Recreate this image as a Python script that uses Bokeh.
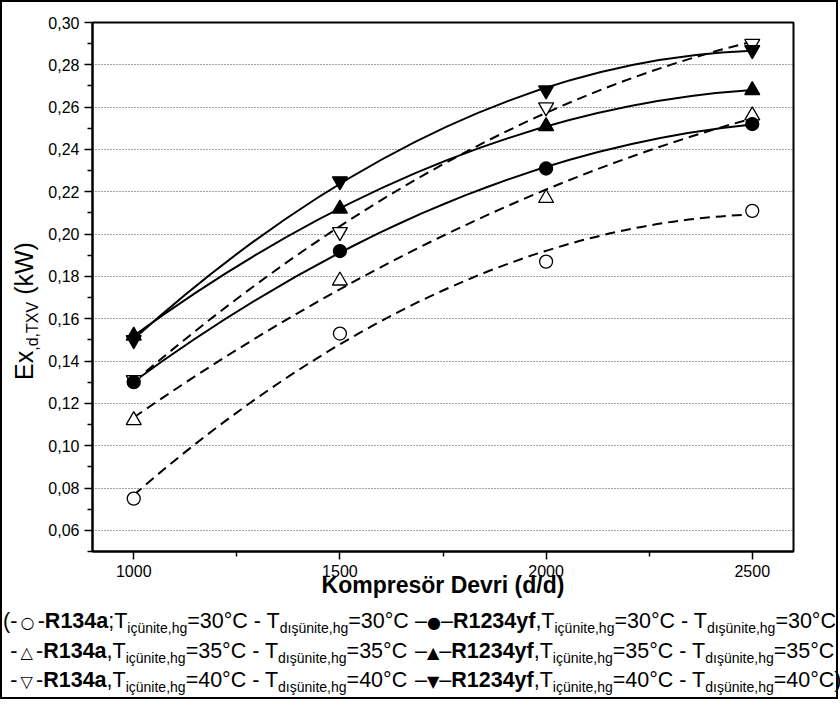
import numpy as np
from bokeh.plotting import figure
from bokeh.models import FixedTicker, Range1d, Div, CustomJSTickFormatter
from bokeh.layouts import column, row
from bokeh.embed import file_html
from bokeh.resources import INLINE

# ---------------- data ----------------
speeds = [1000, 1500, 2000, 2500]
r134a_30 = [0.075, 0.153, 0.187, 0.211]
r134a_35 = [0.112, 0.178, 0.217, 0.256]
r134a_40 = [0.131, 0.201, 0.260, 0.290]
r1234yf_30 = [0.130, 0.192, 0.231, 0.252]
r1234yf_35 = [0.152, 0.212, 0.251, 0.268]
r1234yf_40 = [0.150, 0.225, 0.268, 0.287]

x_ticks = [1000, 1500, 2000, 2500]
x_minor = [1250, 1750, 2250]
y_ticks = [0.06, 0.08, 0.10, 0.12, 0.14, 0.16, 0.18, 0.20, 0.22, 0.24, 0.26, 0.28, 0.30]
y_minor = [0.05, 0.07, 0.09, 0.11, 0.13, 0.15, 0.17, 0.19, 0.21, 0.23, 0.25, 0.27, 0.29]

refrigerants = ["R134a", "R1234yf"]
temps = [30, 35, 40]
open_markers = ["circle", "triangle", "inverted_triangle"]
open_symbols = ["\u25CB", "\u25B3", "\u25BD"]
filled_symbols = ["\u25CF", "\u25B2", "\u25BC"]

FONT = "Liberation Sans"
YDIV_W = 40

p = figure(width=834 - YDIV_W, height=600,
           x_range=Range1d(900, 2600), y_range=Range1d(0.05, 0.30),
           output_backend="svg", toolbar_location=None,
           min_border_left=90 - YDIV_W, min_border_right=43,
           min_border_top=20, min_border_bottom=51)

p.outline_line_color = "black"
p.outline_line_width = 2
p.background_fill_color = "white"
p.border_fill_color = "white"

for ax in (p.xaxis[0], p.yaxis[0]):
    ax.axis_line_width = 2
    ax.axis_line_color = "black"
    ax.major_tick_line_color = "black"
    ax.minor_tick_line_color = "black"
    ax.major_tick_line_width = 1.5
    ax.minor_tick_line_width = 1.5
    ax.major_tick_in = 0
    ax.minor_tick_in = 0
    ax.major_tick_out = 8
    ax.minor_tick_out = 5
    ax.major_label_text_font = FONT
    ax.major_label_text_font_size = "16px"
    ax.major_label_text_color = "black"
    ax.major_label_standoff = 5

p.xaxis.ticker = FixedTicker(ticks=x_ticks, minor_ticks=x_minor)
p.yaxis.ticker = FixedTicker(ticks=y_ticks, minor_ticks=y_minor)
p.yaxis.formatter = CustomJSTickFormatter(code="return tick.toFixed(2).replace('.', ',');")

p.xaxis.axis_label = "Kompresör Devri (d/d)"
p.xaxis.axis_label_text_font = FONT
p.xaxis.axis_label_text_font_size = "23px"
p.xaxis.axis_label_text_font_style = "bold"
p.xaxis.axis_label_text_color = "black"
p.xaxis.axis_label_standoff = -8

p.xgrid.visible = False
p.ygrid.ticker = FixedTicker(ticks=y_ticks)
p.ygrid.grid_line_color = "#444444"
p.ygrid.grid_line_dash = "1 2"
p.ygrid.grid_line_width = 1

series_134a = [r134a_30, r134a_35, r134a_40]
series_1234 = [r1234yf_30, r1234yf_35, r1234yf_40]

xs = np.array(speeds, dtype=float)


def fit_curve(ys, dash):
    # second-order regression trend line, drawn as an exact quadratic curve
    coef = np.polyfit(xs, np.array(ys, dtype=float), 2)
    f = np.poly1d(coef)
    x0, x1 = xs[0], xs[-1]
    xm = 0.5 * (x0 + x1)
    y0, y1 = f(x0), f(x1)
    cy = 2 * f(xm) - 0.5 * (y0 + y1)
    p.quadratic(x0=[x0], y0=[y0], x1=[x1], y1=[y1], cx=[xm], cy=[cy],
                line_color="black", line_width=2, line_dash=dash)


for ys in series_134a:
    fit_curve(ys, "10 6")
for ys in series_1234:
    fit_curve(ys, "solid")

for ys, m in zip(series_134a, open_markers):
    p.scatter(speeds, ys, marker=m, size=13 if m == "circle" else 15,
              fill_color="white", line_color="black", line_width=1.3)
for ys, m in zip(series_1234, open_markers):
    p.scatter(speeds, ys, marker=m, size=13 if m == "circle" else 15,
              fill_color="black", line_color="black", line_width=1.3)

# ---------------- y-axis title (rotated, with subscript) ----------------
ylabel_html = (
    f'<div style="position:relative;width:{YDIV_W}px;height:600px;">'
    '<div style="position:absolute;left:10px;top:459px;width:300px;height:24px;line-height:24px;'
    'text-align:center;transform-origin:0 0;transform:rotate(-90deg);'
    f'font-family:\'{FONT}\',Arial,sans-serif;font-size:25px;color:#000;white-space:nowrap;">'
    'Ex<span style="font-size:16px;position:relative;top:5px;">,d,TXV</span> (kW)</div></div>'
)
ydiv = Div(text=ylabel_html, width=YDIV_W, height=600, margin=0)

# ---------------- legend (below plot) ----------------
SUB = 'style="font-size:14px;position:relative;top:5px;"'
SYM = 'style="font-family:\'DejaVu Sans\';font-size:16px;"'


def half(sym, dash, ref, sep, t, prefix="", suffix="", pad=""):
    return (f'{prefix}{dash}<span {SYM}>{pad}{sym}{pad}</span>{dash}<b>{ref}</b>{sep}'
            f'T<span {SUB}>içünite,hg</span>={t}°C - '
            f'T<span {SUB}>dışünite,hg</span>={t}°C{suffix}')


rows_html = []
row_tops = [8, 38, 67]
for i, t in enumerate(temps):
    left = half(open_symbols[i], "-", refrigerants[0], ";" if i == 0 else ",", t,
                prefix="(" if i == 0 else '<span style="visibility:hidden">(</span>',
                pad="&thinsp;")
    right = half(filled_symbols[i], "\u2013", refrigerants[1], ",", t,
                 suffix=")" if i == 2 else "")
    rows_html.append(f'<div style="position:absolute;left:1px;top:{row_tops[i]}px;">{left}</div>')
    rows_html.append(f'<div style="position:absolute;left:413px;top:{row_tops[i]}px;">{right}</div>')

html = (f'<div style="position:relative;width:834px;height:95px;font-family:\'{FONT}\',Arial,sans-serif;'
        f'font-size:21.5px;line-height:22px;color:#000;white-space:nowrap;">'
        + "".join(rows_html) + "</div>")
div = Div(text=html, width=834, height=95, margin=0)

layout = column(row(ydiv, p, spacing=0), div, styles={"border": "2px solid black"}, spacing=0)

open("out.html", "w").write(file_html(layout, INLINE))
